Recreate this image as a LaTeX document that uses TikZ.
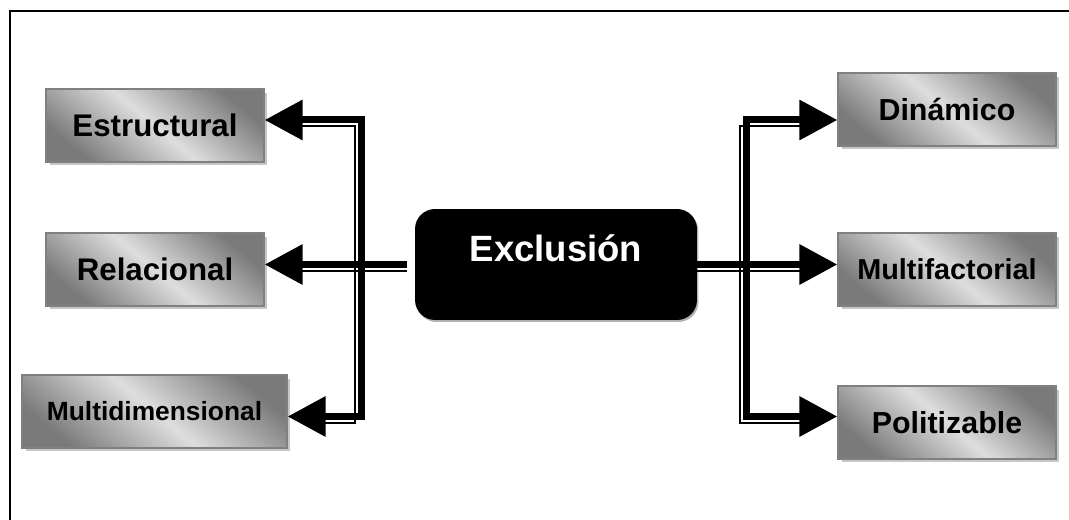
\documentclass[tikz,border=0pt]{standalone}
\usepackage{fontspec}
\setmainfont{Liberation Sans}
\usetikzlibrary{calc,positioning,arrows,arrows.meta,shadows}

\begin{document}
\begin{tikzpicture}[x=0.02cm,y=-0.02cm,
  box/.style={draw=black!50,line width=0.03cm,left color=black!52,right color=black!52,middle color=black!13,shading angle=140,minimum width=4.36cm,minimum height=1.46cm,inner sep=0pt,font=\bfseries\fontsize{17.8}{20}\selectfont,general shadow={fill=black!22,shadow xshift=0.07cm,shadow yshift=-0.07cm}},
  core/.style={fill=black,rounded corners=0.4cm,minimum width=5.64cm,minimum height=2.22cm,text=white,text height=0.5cm,text depth=0.6cm,font=\bfseries\fontsize{20.8}{24}\selectfont,general shadow={fill=black!30,shadow xshift=0.03cm,shadow yshift=-0.04cm}},
  bar/.style={line width=0.14cm,line join=miter},
  fine/.style={line width=0.04cm},
  lowleft/.style={transform canvas={shift={(-6.5,6.5)}}},
  low/.style={transform canvas={yshift=-0.13cm}},
  tip/.style={-{Triangle[length=0.76cm,width=0.78cm]}},
  tips/.style={{Triangle[length=0.76cm,width=0.78cm]}-{Triangle[length=0.76cm,width=0.78cm]}}]
  \useasboundingbox (0,0) rectangle (1069,520);
  \draw[line width=0.04cm] (10,520) -- (10,11) -- (1069,11);

  \node[core] (excl) at (556,264.5) {Exclusión};

  \node[box] (estr) at (155,125.5) {Estructural};
  \node[box] (rel) at (155,269.5) {Relacional};
  \node[box,minimum width=5.3cm,font=\bfseries\fontsize{15}{18}\selectfont] (mdim) at (154.5,411.5) {Multidimensional};

  \node[box,font=\bfseries\fontsize{17.3}{20}\selectfont] (din) at (947,109.5) {Dinámico};
  \node[box,font=\bfseries\fontsize{16.4}{19}\selectfont] (mfac) at (947,269.5) {Multifactorial};
  \node[box,font=\bfseries\fontsize{17.3}{20}\selectfont] (pol) at (947,422.5) {Politizable};

  \coordinate (lt) at (361.5,120);
  \coordinate (lb) at (361.5,416.5);
  \coordinate (rt) at (746.5,120);
  \coordinate (rb) at (746.5,416.5);

  % left side
  \draw[fine,lowleft,shorten <=0.6cm,shorten >=0.6cm] (estr.east |- lt) -| (lb) -- (mdim.east |- lb);
  \draw[bar,tips] (estr.east |- lt) -| (lb) -- (mdim.east |- lb);
  \draw[fine,low,shorten <=0.16cm,shorten >=0.6cm] (excl.west) -- (rel.east |- excl.west);
  \draw[bar,tip,shorten <=0.16cm] (excl.west) -- (rel.east |- excl.west);

  % right side
  \draw[fine,lowleft,shorten <=0.6cm,shorten >=0.6cm] (din.west |- rt) -| (rb) -- (pol.west |- rb);
  \draw[bar,tips] (din.west |- rt) -| (rb) -- (pol.west |- rb);
  \draw[fine,low,shorten >=0.6cm] (excl.east) -- (mfac.west |- excl.east);
  \draw[bar,tip] (excl.east) -- (mfac.west |- excl.east);
\end{tikzpicture}
\end{document}
